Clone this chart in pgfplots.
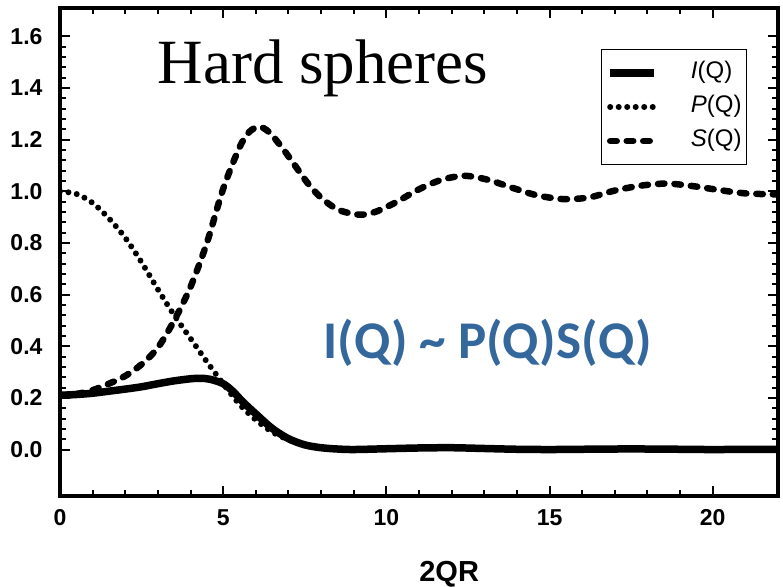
\documentclass[border=0pt]{standalone}
\usepackage{fontspec}
\setmainfont{Liberation Sans}
\newfontfamily\titlefont{Liberation Serif}
\newfontfamily\notefont{Carlito}
\usepackage{pgfplots}
\pgfplotsset{compat=1.18}
\definecolor{noteblue}{RGB}{52,104,156}
\pgfplotsset{shortline/.style={legend image code/.code={\draw[##1] (0pt,0pt) -- (44pt,0pt);}}}

\begin{document}
\begin{tikzpicture}
\begin{axis}[
  name=main,
  scale only axis,
  width=718pt, height=488pt,
  xmin=0, xmax=22, ymin=-0.18, ymax=1.71,
  xtick={0,5,10,15,20},
  ytick={0,0.2,0.4,0.6,0.8,1.0,1.2,1.4,1.6},
  minor x tick num=4, minor y tick num=4,
  major tick length=10pt, minor tick length=6pt,
  tick style={line width=2pt, black},
  axis line style={line width=3.5pt},
  tick label style={font=\fontsize{23}{26}\selectfont\bfseries},
  /pgf/number format/assume math mode=true,
  yticklabel style={/pgf/number format/fixed, /pgf/number format/fixed zerofill,
    /pgf/number format/precision=1, xshift=-14pt},
  xticklabel style={yshift=-10pt},
  xlabel={2QR},
  xlabel style={font=\fontsize{29}{32}\selectfont\bfseries,
    at={(axis description cs:0.542,0)}, anchor=base, yshift=-85pt},
  shortline,
  legend cell align=left,
  legend style={at={(0.957,0.916)}, anchor=north east, draw=black,
    line width=1pt, inner xsep=5pt, inner ysep=12pt,
    font=\fontsize{24}{26}\selectfont, row sep=11pt,
    nodes={inner sep=0pt, text height=17pt, text depth=6pt},
    /tikz/every odd column/.append style={column sep=33pt}},
]

% I(Q)
\addplot[black, line width=7.5pt, smooth] coordinates {
  (0,0.210) (0.5,0.213) (1.0,0.218) (1.5,0.226) (2.0,0.234) (2.5,0.243)
  (3.0,0.255) (3.5,0.266) (4.0,0.274) (4.3,0.276) (4.6,0.272) (5.0,0.255)
  (5.3,0.225) (5.6,0.185) (6.0,0.138) (6.5,0.082) (7.0,0.042) (7.5,0.018)
  (8.0,0.007) (8.5,0.002) (9.0,0.000) (10.0,0.003) (11.0,0.006) (12.0,0.007)
  (13.0,0.004) (14.0,0.001) (15.0,0.000) (16.0,0.001) (17.0,0.002)
  (18.0,0.002) (19.0,0.001) (20.0,0.000) (22.0,0.001)
};
\addlegendentry{\textit{I}(Q)}

% P(Q)
\addplot[black, line width=6pt, line cap=round, dash pattern=on 0pt off 8.5pt, smooth] coordinates {
  (0,1.000) (0.5,0.990) (1.0,0.955) (1.5,0.895) (2.0,0.820) (2.5,0.725)
  (3.0,0.620) (3.5,0.520) (4.0,0.430) (4.5,0.340) (5.0,0.255) (5.5,0.175)
  (6.0,0.115) (6.5,0.068) (7.0,0.038) (7.5,0.018) (8.0,0.008) (8.5,0.002)
  (9.0,0.000) (10.0,0.003) (11.0,0.006) (12.0,0.007) (13.0,0.004)
  (14.0,0.001) (15.0,0.000) (16.0,0.001) (17.0,0.002) (18.0,0.002)
  (19.0,0.001) (20.0,0.000) (22.0,0.001)
};
\addlegendentry{\textit{P}(Q)}

% S(Q)
\addplot[black, line width=6.5pt, line cap=round, dash pattern=on 6.5pt off 10pt, smooth] coordinates {
  (0,0.210) (0.5,0.215) (1.0,0.230) (1.5,0.255) (2.0,0.285) (2.5,0.330)
  (3.0,0.395) (3.5,0.500) (4.0,0.630) (4.5,0.800) (5.0,1.010) (5.5,1.170)
  (5.8,1.230) (6.1,1.250) (6.4,1.230) (6.8,1.170) (7.2,1.100) (7.6,1.030)
  (8.0,0.975) (8.5,0.930) (9.0,0.912) (9.3,0.910) (9.7,0.922) (10.3,0.958)
  (11.0,1.008) (11.7,1.045) (12.4,1.060) (13.1,1.045) (13.9,1.012)
  (14.6,0.985) (15.4,0.970) (16.2,0.976) (17.0,1.003) (17.8,1.022)
  (18.6,1.030) (19.4,1.020) (20.2,1.005) (21.0,0.992) (22.0,0.988)
};
\addlegendentry{\textit{S}(Q)}

\node[anchor=base, font=\titlefont\fontsize{63}{70}\selectfont]
  at (axis cs:8.06,1.419) {Hard spheres};
\node[anchor=base, text=noteblue, font=\notefont\bfseries\fontsize{53}{60}\selectfont]
  at (axis cs:13.1,0.352) {I(Q) \textasciitilde{} P(Q)S(Q)};
\end{axis}
\pgfresetboundingbox
\path[use as bounding box] ([xshift=-60pt,yshift=-90pt]main.south west)
  rectangle ([xshift=5pt,yshift=8pt]main.north east);
\end{tikzpicture}
\end{document}
